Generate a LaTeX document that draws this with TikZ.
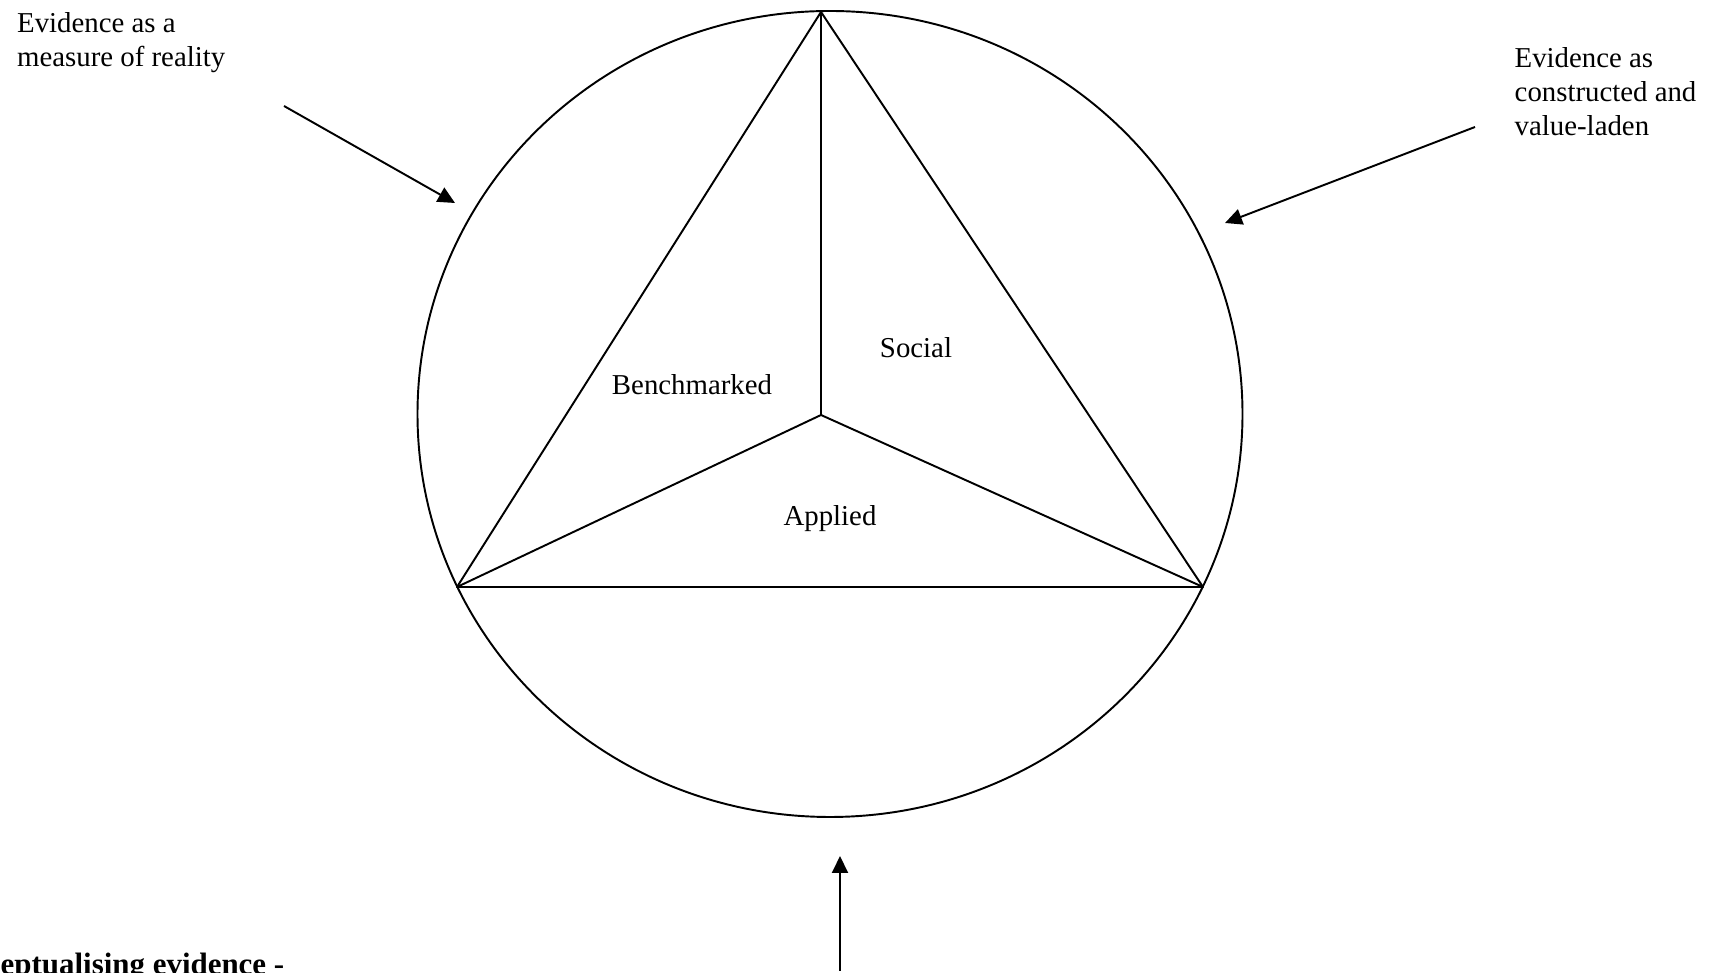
\documentclass[tikz,border=0pt]{standalone}
\usepackage{fontspec}
\setmainfont{Liberation Serif}
\usetikzlibrary{arrows.meta}
\tikzset{>={Triangle[length=0.17cm,width=0.16cm]}}
\tikzset{
  lbl/.style={font=\fontsize{8.2}{9.7}\selectfont,inner sep=0,align=left},
  edge/.style={line width=0.55pt,line join=round},
}

\begin{document}
\begin{tikzpicture}
  \def\Cx{8.30}   % ellipse centre x
  \def\Cy{5.59}   % ellipse centre y
  \def\Rx{4.125}  % ellipse radius horizontal
  \def\Ry{4.03}   % ellipse radius vertical
  \useasboundingbox (0,0) rectangle (17.2,9.73);

  % CIRCLE + TRIANGLE
  \draw[edge] (\Cx,\Cy) ellipse({\Rx} and {\Ry});
  \coordinate (T) at (8.21,9.61);
  \coordinate (L) at (4.57,3.86);
  \coordinate (R) at (12.03,3.86);
  \coordinate (O) at (8.21,5.58);
  \draw[edge] (T) -- (L) -- (R) -- cycle;
  \draw[edge] (O) -- (T) (O) -- (L) (O) -- (R);

  % SECTOR NAMES
  \node[lbl] (bench) at (6.92,5.88) {Benchmarked};
  \node[lbl] (social) at (9.16,6.25) {Social};
  \node[lbl] (applied) at (8.30,4.54) {Applied};

  % VIEWS OF EVIDENCE
  \node[lbl,anchor=west] (real) at (0.165,9.30) {Evidence as a\\measure of reality};
  \node[lbl,anchor=west] (constr) at (15.14,8.81) {Evidence as\\constructed and\\value-laden};
  \node[lbl,anchor=west,font=\fontsize{8.8}{10}\selectfont\bfseries] (concept) at (0,0.06) {eptualising evidence -};

  \coordinate (a1) at (2.84,8.67);
  \coordinate (b1) at (4.55,7.70);
  \coordinate (a2) at (14.75,8.46);
  \coordinate (b2) at (12.25,7.50);
  \coordinate (a3) at (8.40,0.02);
  \coordinate (b3) at (8.40,1.17);
  \draw[edge,->] (a1) -- (b1);
  \draw[edge,->] (a2) -- (b2);
  \draw[edge,->] (a3) -- (b3);

\end{tikzpicture}
\end{document}
